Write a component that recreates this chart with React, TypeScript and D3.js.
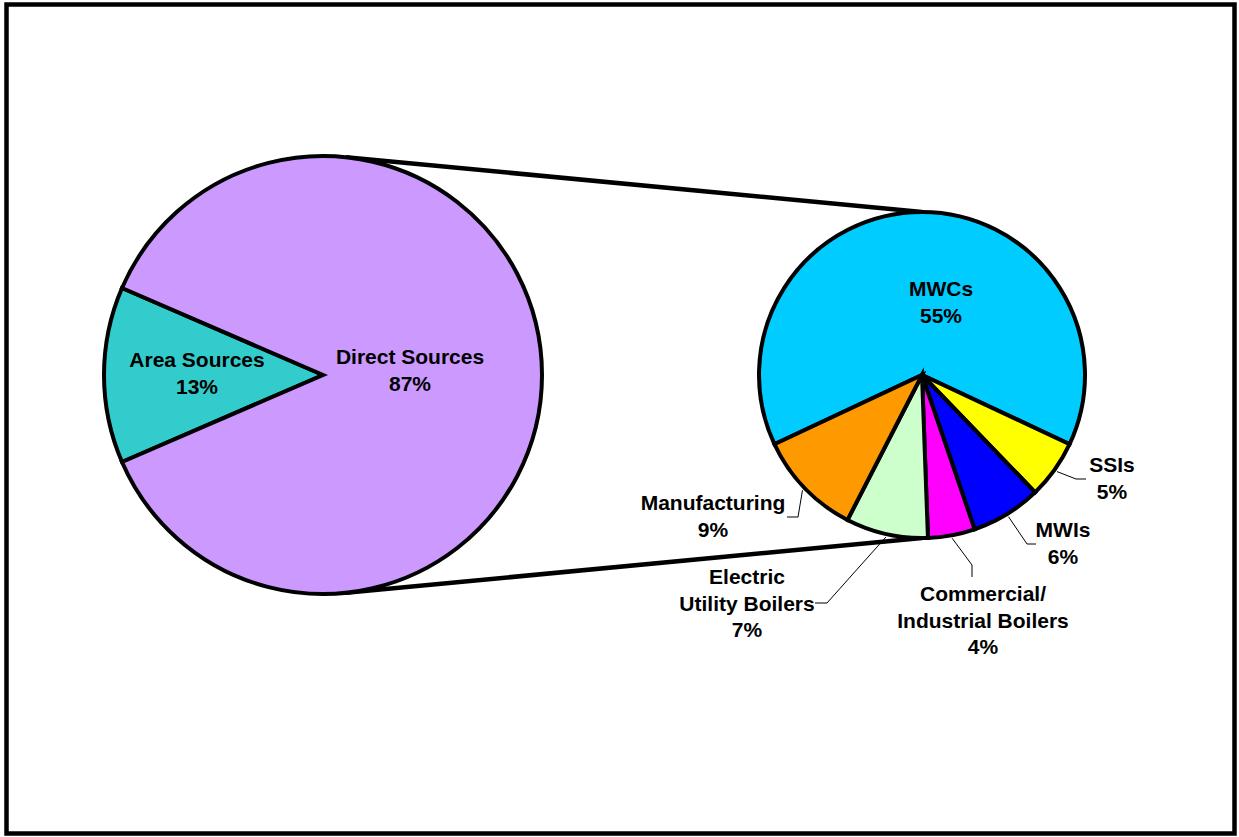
import React from "react";
import * as d3 from "d3";

const mainCategories = ["Area Sources", "Direct Sources"];
const mainValues = [13, 87];
const mainColors = ["#33CCCC", "#CC99FF"];

const subCategories = ["MWCs", "SSIs", "MWIs", "Commercial/\nIndustrial Boilers", "Electric\nUtility Boilers", "Manufacturing"];
const subValues = [55, 5, 6, 4, 7, 9];
const subColors = ["#00CCFF", "#FFFF00", "#0000FF", "#FF00FF", "#CCFFCC", "#FF9900"];

const W = 1239, H = 837;
const L = { cx: 323, cy: 375, r: 219 };
const R = { cx: 922, cy: 375, r: 163 };
const FONT = "'Liberation Sans', Arial, sans-serif";
const FS = 21;
const LH = 26.5;

type Lay = { elbow?: [number, number]; end?: [number, number]; lx: number; ly: number };
const subLayout: Lay[] = [
  { lx: 941, ly: 296 },
  { elbow: [1076, 479], end: [1086, 479], lx: 1112, ly: 472 },
  { elbow: [1027, 544], end: [1036, 544], lx: 1063, ly: 537 },
  { elbow: [972, 565], end: [972, 577], lx: 983, ly: 601 },
  { elbow: [827, 603], end: [815, 603], lx: 747, ly: 584 },
  { elbow: [798, 517], end: [787, 517], lx: 713, ly: 510 },
];
const mainLayout = [
  { lx: 197, ly: 367 },
  { lx: 410, ly: 364 },
];

function pt(c: { cx: number; cy: number }, r: number, a: number): [number, number] {
  return [c.cx + r * Math.sin(a), c.cy - r * Math.cos(a)];
}

function Label({ x, y, lines }: { x: number; y: number; lines: string[] }) {
  return (
    <text x={x} y={y} textAnchor="middle" fontFamily={FONT} fontWeight="bold" fontSize={FS} fill="#000">
      {lines.map((t, i) => (
        <tspan key={i} x={x} dy={i === 0 ? 0 : LH}>{t}</tspan>
      ))}
    </text>
  );
}

export default function App() {
  const mainTotal = d3.sum(mainValues);
  const areaSpan = (mainValues[0] / mainTotal) * Math.PI * 2;
  const mainStart = -Math.PI / 2 - areaSpan / 2;
  const mainPie = d3.pie<number>().sort(null).startAngle(mainStart).endAngle(mainStart + Math.PI * 2)(mainValues);
  const mainArc = d3.arc<d3.PieArcDatum<number>>().innerRadius(0).outerRadius(L.r);

  const subTotal = d3.sum(subValues);
  const subStart = -(subValues[0] / subTotal) * Math.PI;
  const subPie = d3.pie<number>().sort(null).startAngle(subStart).endAngle(subStart + Math.PI * 2)(subValues);
  const subArc = d3.arc<d3.PieArcDatum<number>>().innerRadius(0).outerRadius(R.r);

  const zoomTopA = (6 * Math.PI) / 180;
  const zoomBotA = Math.PI - zoomTopA;
  const t0 = pt(L, L.r, zoomTopA);
  const b0 = pt(L, L.r, zoomBotA);
  const t1 = pt(R, R.r, 0);
  const b1 = pt(R, R.r, Math.PI);

  return (
    <svg width={W} height={H} style={{ position: "absolute", left: 0, top: 0 }}>
      <rect x={0} y={0} width={W} height={H} fill="#fff" />
      <rect x={6.5} y={4.5} width={1228} height={829} fill="none" stroke="#000" strokeWidth={4.5} />
      <line x1={t0[0]} y1={t0[1]} x2={t1[0]} y2={t1[1]} stroke="#000" strokeWidth={4.5} />
      <line x1={b0[0]} y1={b0[1]} x2={b1[0]} y2={b1[1]} stroke="#000" strokeWidth={4.5} />
      <g transform={`translate(${L.cx},${L.cy})`}>
        {mainPie.map((d, i) => (
          <path key={i} d={mainArc(d) || ""} fill={mainColors[i]} stroke="#000" strokeWidth={4} />
        ))}
      </g>
      <g transform={`translate(${R.cx},${R.cy})`}>
        {subPie.map((d, i) => (
          <path key={i} d={subArc(d) || ""} fill={subColors[i]} stroke="#000" strokeWidth={4} />
        ))}
      </g>
      {mainPie.map((d, i) => (
        <Label key={i} x={mainLayout[i].lx} y={mainLayout[i].ly} lines={[mainCategories[i], `${mainValues[i]}%`]} />
      ))}
      {subPie.map((d, i) => {
        const lay = subLayout[i];
        const mid = (d.startAngle + d.endAngle) / 2;
        const s = pt(R, R.r + 3, mid);
        return (
          <g key={i}>
            {lay.elbow && lay.end && (
              <polyline
                points={`${s[0]},${s[1]} ${lay.elbow[0]},${lay.elbow[1]} ${lay.end[0]},${lay.end[1]}`}
                fill="none"
                stroke="#000"
                strokeWidth={1}
              />
            )}
            <Label x={lay.lx} y={lay.ly} lines={[...subCategories[i].split("\n"), `${subValues[i]}%`]} />
          </g>
        );
      })}
    </svg>
  );
}
